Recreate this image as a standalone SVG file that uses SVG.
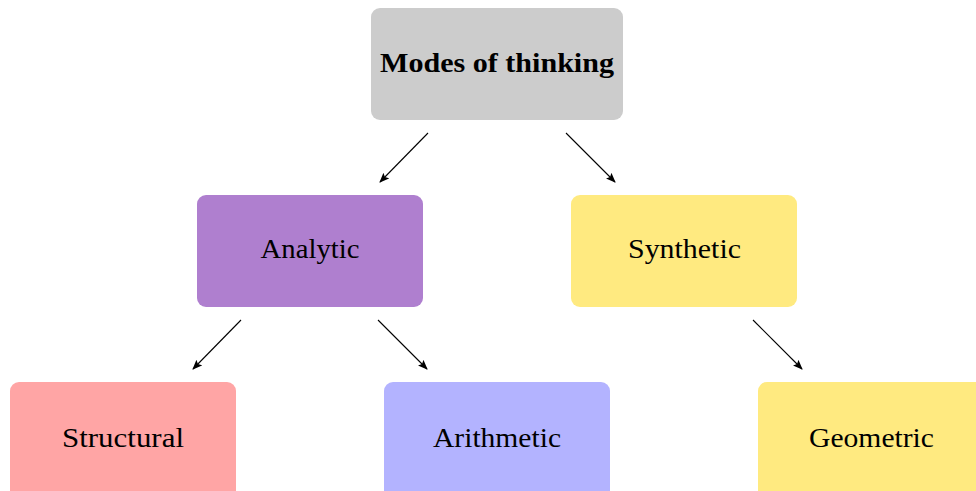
<svg xmlns="http://www.w3.org/2000/svg" width="976" height="491" viewBox="0 0 976 491">
  <style>
    .box { stroke: none; }
    .label { font-family: "Liberation Serif", "Times New Roman", serif; font-size: 28px; fill: #000; text-anchor: middle; }
    .title { font-weight: bold; }
    .edge { stroke: #000; stroke-width: 1.1; fill: none; marker-end: url(#arrow); }
  </style>
  <defs>
    <marker id="arrow" markerWidth="10" markerHeight="8" refX="9" refY="4" orient="auto" markerUnits="userSpaceOnUse">
      <path d="M0,0 L10,4 L0,8 L2,4 Z" fill="#000"/>
    </marker>
  </defs>
  <rect width="976" height="491" fill="#fff"/>

  <g id="modes">
    <rect class="box" x="371" y="8" width="252" height="112" rx="9" fill="#cccccc"/>
    <text class="label title" x="497" y="72" textLength="234" lengthAdjust="spacingAndGlyphs">Modes of thinking</text>
  </g>
  <g id="analytic">
    <rect class="box" x="197" y="195" width="226" height="112" rx="9" fill="#af7fcf"/>
    <text class="label" x="310" y="258" textLength="99" lengthAdjust="spacingAndGlyphs">Analytic</text>
  </g>
  <g id="synthetic">
    <rect class="box" x="571" y="195" width="226" height="112" rx="9" fill="#ffea80"/>
    <text class="label" x="684.5" y="258" textLength="113" lengthAdjust="spacingAndGlyphs">Synthetic</text>
  </g>
  <g id="structural">
    <rect class="box" x="10" y="382" width="226" height="120" rx="9" fill="#ffa5a5"/>
    <text class="label" x="123" y="447" textLength="122" lengthAdjust="spacingAndGlyphs">Structural</text>
  </g>
  <g id="arithmetic">
    <rect class="box" x="384" y="382" width="226" height="120" rx="9" fill="#b3b3ff"/>
    <text class="label" x="497" y="447" textLength="128" lengthAdjust="spacingAndGlyphs">Arithmetic</text>
  </g>
  <g id="geometric">
    <rect class="box" x="758" y="382" width="226" height="120" rx="9" fill="#ffea80"/>
    <text class="label" x="871.5" y="447" textLength="125" lengthAdjust="spacingAndGlyphs">Geometric</text>
  </g>

  <g id="connectors">
    <line class="edge" x1="428" y1="133" x2="380" y2="182"/>
    <line class="edge" x1="566" y1="133" x2="615" y2="182"/>
    <line class="edge" x1="241" y1="320" x2="193" y2="369"/>
    <line class="edge" x1="378" y1="320" x2="427" y2="369"/>
    <line class="edge" x1="753" y1="320" x2="802" y2="369"/>
  </g>
</svg>
